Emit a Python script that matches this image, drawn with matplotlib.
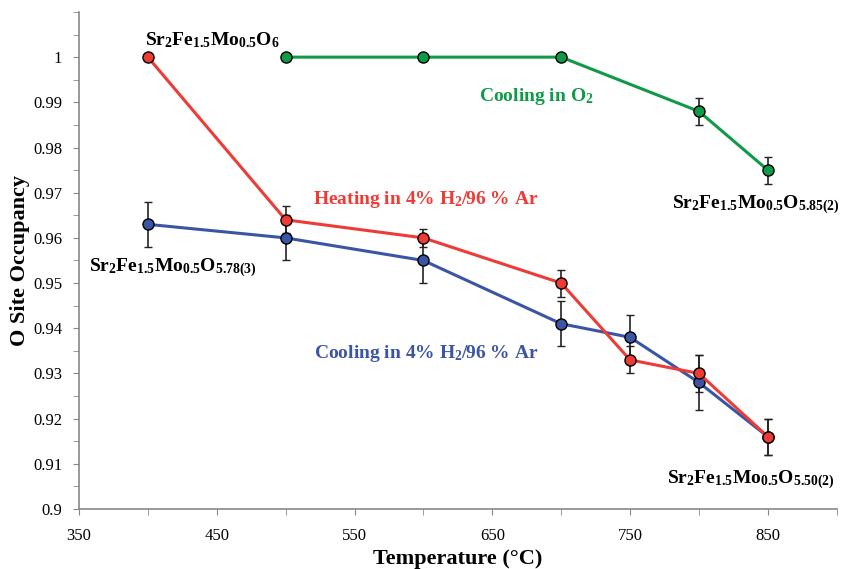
import matplotlib
matplotlib.use('Agg')
import matplotlib.pyplot as plt
from matplotlib.ticker import MultipleLocator, FixedLocator

plt.rcParams['font.family'] = 'Liberation Serif'
plt.rcParams['mathtext.fontset'] = 'custom'
plt.rcParams['mathtext.rm'] = 'Liberation Serif:bold'
plt.rcParams['mathtext.it'] = 'Liberation Serif:bold'
plt.rcParams['mathtext.bf'] = 'Liberation Serif:bold'

# Heating in 4% H2/96% Ar
heat_T = [400, 500, 600, 700, 750, 800, 850]
heat_occ = [1.000, 0.964, 0.960, 0.950, 0.933, 0.930, 0.916]
heat_err = [0.0, 0.003, 0.002, 0.003, 0.003, 0.004, 0.004]

# Cooling in 4% H2/96% Ar
cool_T = [400, 500, 600, 700, 750, 800, 850]
cool_occ = [0.963, 0.960, 0.955, 0.941, 0.938, 0.928, 0.916]
cool_err = [0.005, 0.005, 0.005, 0.005, 0.005, 0.006, 0.004]

# Cooling in O2
o2_T = [500, 600, 700, 800, 850]
o2_occ = [1.000, 1.000, 1.000, 0.988, 0.975]
o2_err = [0.0, 0.0, 0.0, 0.003, 0.003]

red = '#ee3b36'
blue = '#3b55a5'
green = '#0f9a48'

fig = plt.figure(figsize=(8.46, 5.69), dpi=100)
ax = fig.add_axes([0.0934, 0.1054, 0.8956, 0.8736])

for T, occ, err, c in [(o2_T, o2_occ, o2_err, green),
                       (cool_T, cool_occ, cool_err, blue),
                       (heat_T, heat_occ, heat_err, red)]:
    ax.errorbar(T, occ, yerr=err, color=c, lw=2.2, marker='o', ms=8,
                mfc=c, mec='black', mew=1.0, ecolor='#222222', elinewidth=1.2,
                capsize=3, capthick=1.2, zorder=3)

ax.set_xlim(350, 900)
ax.set_ylim(0.9, 1.01)
ax.xaxis.set_major_locator(FixedLocator([350, 450, 550, 650, 750, 850]))
ax.xaxis.set_minor_locator(MultipleLocator(50))
ax.yaxis.set_minor_locator(MultipleLocator(0.005))
ax.set_yticks([0.9, 0.91, 0.92, 0.93, 0.94, 0.95, 0.96, 0.97, 0.98, 0.99, 1.0])
ax.set_yticklabels(['0.9', '0.91', '0.92', '0.93', '0.94', '0.95', '0.96',
                    '0.97', '0.98', '0.99', '1'])

for s in ['top', 'right']:
    ax.spines[s].set_visible(False)
for s in ['left', 'bottom']:
    ax.spines[s].set_color('#888888')
    ax.spines[s].set_linewidth(1.2)
ax.tick_params(which='both', color='#888888', direction='out', labelsize=12)
ax.tick_params(which='major', length=4)
ax.tick_params(which='minor', length=4)
ax.tick_params(axis='x', pad=10)
ax.tick_params(axis='y', pad=8)

ax.set_xlabel('Temperature (°C)', fontsize=16, fontweight='bold', labelpad=3)
ax.set_ylabel('O Site Occupancy', fontsize=16, fontweight='bold', labelpad=2)

kw = dict(fontsize=14, fontweight='bold', ha='center', va='center')
ax.text(447, 1.0038, r'Sr$_2$Fe$_{1.5}$Mo$_{0.5}$O$_6$', **kw)
ax.text(682, 0.9912, r'Cooling in O$_2$', color=green, **kw)
ax.text(841, 0.9673, r'Sr$_2$Fe$_{1.5}$Mo$_{0.5}$O$_{5.85(2)}$', **kw)
ax.text(602, 0.9684, r'Heating in 4% H$_2$/96 % Ar', color=red, **kw)
ax.text(418, 0.9533, r'Sr$_2$Fe$_{1.5}$Mo$_{0.5}$O$_{5.78(3)}$', **kw)
ax.text(602, 0.9345, r'Cooling in 4% H$_2$/96 % Ar', color=blue, **kw)
ax.text(838, 0.9064, r'Sr$_2$Fe$_{1.5}$Mo$_{0.5}$O$_{5.50(2)}$', **kw)

fig.savefig('out.png', dpi=100)
